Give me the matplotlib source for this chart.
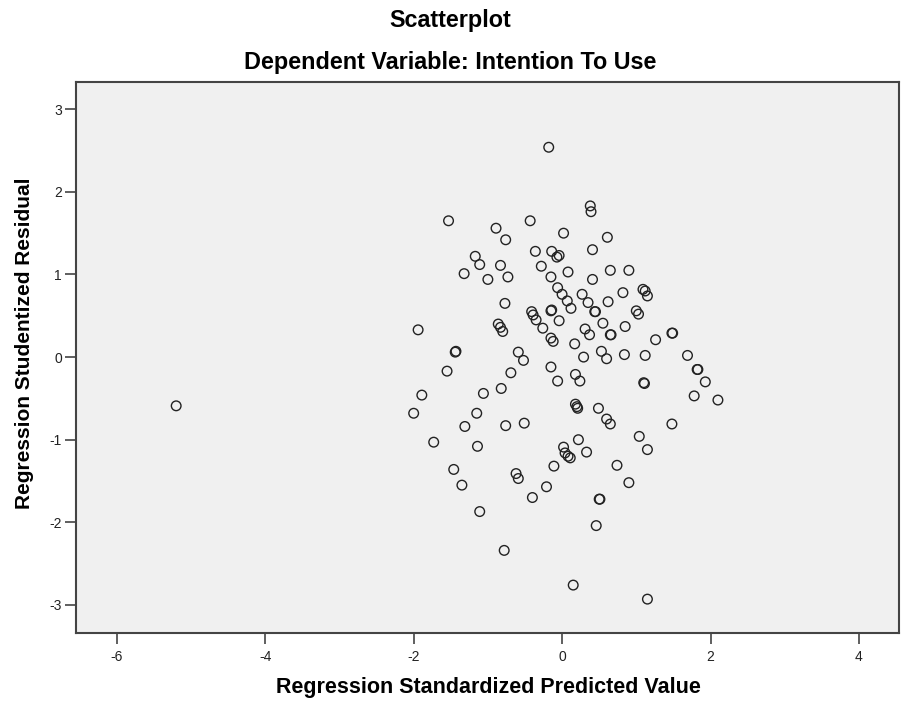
import matplotlib
matplotlib.use("Agg")
import matplotlib.pyplot as plt

plt.rcParams['font.family'] = ['Liberation Sans', 'DejaVu Sans']

pred_x = [
    -0.18, -1.53, -0.89, -0.76, -0.43, -0.36, -0.14, -0.07, -0.04, -1.17,
    -1.11, -0.83, -1.32, -1.00, -0.73, -0.28, -0.15, -0.77, -0.41, -0.39,
    -0.35, -0.26, -0.15, -0.14, -0.15, -0.12, -1.94, -0.86, -0.83, -0.80,
    -1.44, -1.43, -0.59, -0.52, -1.55, -0.69, -0.15, 0.38, 0.39, 0.02,
    0.61, 0.41, 0.08, 0.65, 0.90, 0.41, -0.06, 0.00, 0.07, 0.12,
    0.27, 0.35, 0.82, 0.62, 1.09, 1.12, 1.15, -0.04, 0.44, 0.45,
    1.00, 1.03, 0.17, 0.31, 0.37, 0.55, 0.65, 0.66, 0.85, 1.26,
    1.48, 1.49, 0.29, 0.53, 0.60, 0.84, 1.12, 1.69, 1.82, 1.83,
    -0.06, -1.89, -2.00, -1.06, -0.82, -1.15, -1.31, -0.76, -0.51, -1.73,
    -1.14, -1.46, -1.35, -0.62, -0.59, -0.11, -0.21, -0.40, -1.11, -0.78,
    0.18, 0.24, 1.93, 1.10, 1.11, 1.78, 2.10, 0.18, 0.20, 0.21,
    0.49, 0.60, 0.65, 1.48, 0.22, 1.04, 1.15, 0.02, 0.04, 0.08,
    0.11, 0.33, 0.74, 0.90, 0.50, 0.51, 0.46, 0.15, 1.15, -5.20,
]

resid_y = [
    2.54, 1.65, 1.56, 1.42, 1.65, 1.28, 1.28, 1.21, 1.23, 1.22,
    1.12, 1.11, 1.01, 0.94, 0.97, 1.10, 0.97, 0.65, 0.55, 0.51,
    0.45, 0.35, 0.56, 0.57, 0.23, 0.19, 0.33, 0.40, 0.36, 0.31,
    0.06, 0.07, 0.06, -0.04, -0.17, -0.19, -0.12, 1.83, 1.76, 1.50,
    1.45, 1.30, 1.03, 1.05, 1.05, 0.94, 0.84, 0.76, 0.68, 0.59,
    0.76, 0.66, 0.78, 0.67, 0.82, 0.80, 0.74, 0.44, 0.55, 0.55,
    0.56, 0.52, 0.16, 0.34, 0.27, 0.41, 0.27, 0.27, 0.37, 0.21,
    0.29, 0.29, 0.00, 0.07, -0.02, 0.03, 0.02, 0.02, -0.15, -0.15,
    -0.29, -0.46, -0.68, -0.44, -0.38, -0.68, -0.84, -0.83, -0.80, -1.03,
    -1.08, -1.36, -1.55, -1.41, -1.47, -1.32, -1.57, -1.70, -1.87, -2.34,
    -0.21, -0.29, -0.30, -0.31, -0.32, -0.47, -0.52, -0.57, -0.60, -0.62,
    -0.62, -0.75, -0.81, -0.81, -1.00, -0.96, -1.12, -1.09, -1.16, -1.20,
    -1.22, -1.15, -1.31, -1.52, -1.72, -1.72, -2.04, -2.76, -2.93, -0.59,
]

x_ticks = [-6, -4, -2, 0, 2, 4]
y_ticks = [-3, -2, -1, 0, 1, 2, 3]

fig = plt.figure(figsize=(9.01, 7.02), dpi=100)
ax = fig.add_axes([76/901, 69/702, 823/901, 551/702])
ax.set_facecolor('#F0F0F0')

ax.scatter(pred_x, resid_y, s=48, facecolors='none', edgecolors='#222222',
           linewidths=1.0, zorder=3)

ax.set_xlim(-6.55, 4.54)
ax.set_ylim(-3.34, 3.33)
ax.set_xticks(x_ticks)
ax.set_yticks(y_ticks)
ax.set_xticklabels([str(v) for v in x_ticks], fontsize=10, color='#222222')
ax.set_yticklabels([str(v) for v in y_ticks], fontsize=10, color='#222222')
ax.tick_params(direction='out', length=8, width=1.2, color='#444444')
ax.tick_params(axis='x', pad=4)
ax.tick_params(axis='y', pad=2)

for sp in ax.spines.values():
    sp.set_color('#444444')
    sp.set_linewidth(1.5)

ax.set_xlabel('Regression Standardized Predicted Value', fontsize=15.5,
              fontweight='bold', va='center', ha='center')
ax.xaxis.set_label_coords(0.5006, (633 - 688) / 551)
ax.set_ylabel('Regression Studentized Residual', fontsize=15,
              fontweight='bold', va='center', ha='center')
ax.yaxis.set_label_coords((25 - 76) / 823, (633 - 343) / 551)

fig.text(0.5, 1 - 20/702, 'Scatterplot', ha='center', va='center',
         fontsize=16.8, fontweight='bold')
fig.text(0.5, 1 - 63/702, 'Dependent Variable: Intention To Use',
         ha='center', va='center', fontsize=16.8, fontweight='bold')

fig.savefig('out.png', dpi=100, facecolor='white')
